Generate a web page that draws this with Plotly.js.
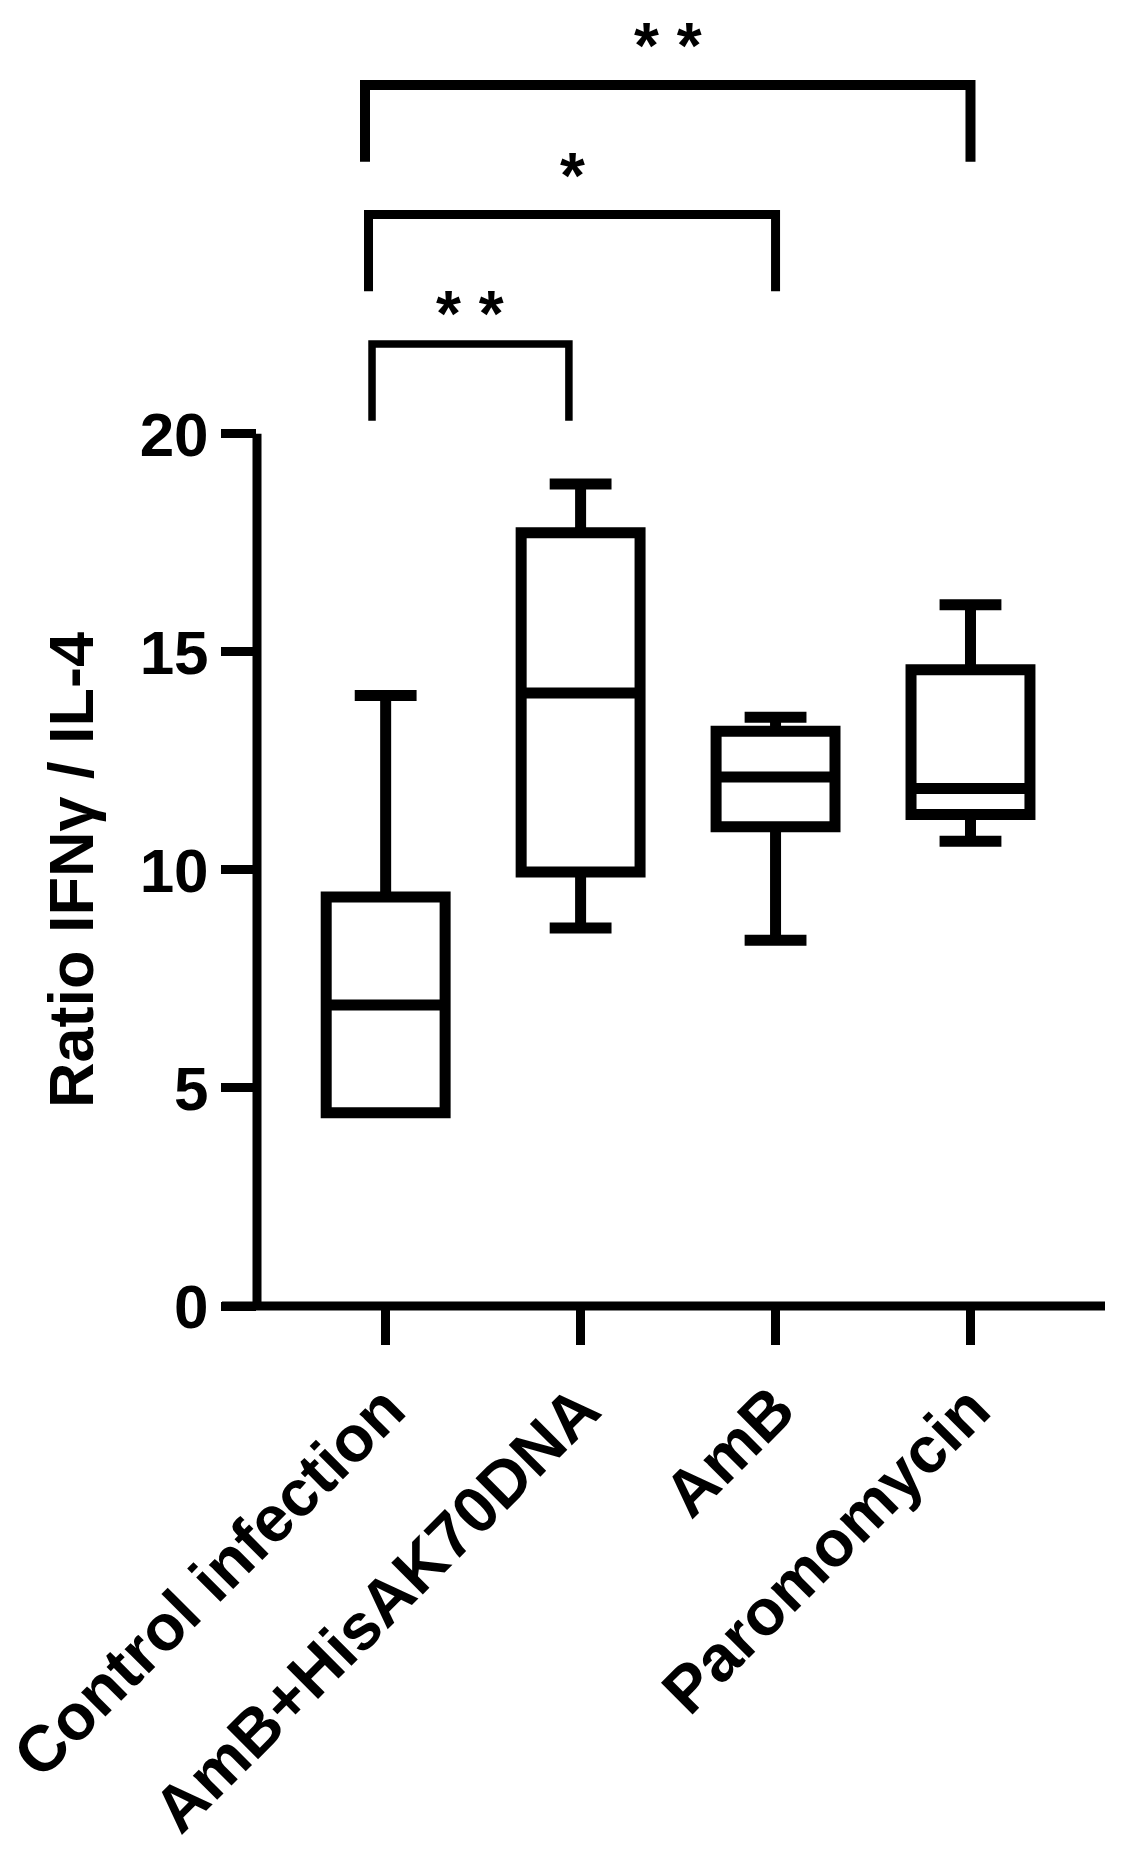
<!DOCTYPE html>
<html>
<head>
<meta charset="utf-8">
<script src="https://cdn.plot.ly/plotly-3.0.1.min.js"></script>
<style>
  html, body { margin: 0; padding: 0; background: #fff; }
  #chart { width: 1127px; height: 1851px; }
</style>
</head>
<body>
<div id="chart"></div>
<script>
// groups on the x axis
const groups = ['Control infection', 'AmB+HisAK70DNA', 'AmB', 'Paromomycin'];

// box statistics (ratio IFNγ / IL-4)
const lowerWhisker = [4.43, 8.67, 8.39, 10.66];
const q1 = [4.43, 9.95, 10.99, 11.27];
const median = [6.9, 14.06, 12.13, 11.87];
const q3 = [9.38, 17.73, 13.18, 14.59];
const upperWhisker = [14.0, 18.85, 13.5, 16.08];

// significance comparisons (index into groups)
const compareFrom = [0, 0, 0];
const compareTo = [1, 2, 3];
const compareStars = ['* *', '*', '* *'];

const yTicks = [0, 5, 10, 15, 20];

const FONT = 'Liberation Sans, Arial, sans-serif';
const xs = groups.map((g, i) => i);

const boxTrace = {
    type: 'box',
    x: xs,
    q1: q1,
    median: median,
    q3: q3,
    lowerfence: lowerWhisker,
    upperfence: upperWhisker,
    boxpoints: false,
    width: 0.61,
    whiskerwidth: 0.52,
    fillcolor: 'rgba(0,0,0,0)',
    line: { color: '#000', width: 11 },
    hoverinfo: 'skip'
};

// brackets stack upward, one level per comparison
const shapes = [];
const annotations = [];
const baseLevel = 22.06, levelStep = 2.97, legDrop = 1.76;
const bracketWidths = [7.5, 9, 10];
const starLift = [0.8, 1.0, 1.0];
compareFrom.forEach((from, i) => {
    const top = baseLevel + levelStep * i;
    const left = from - 0.07 - 0.018 * i;
    const right = compareTo[i] - (i === 0 ? 0.06 : 0);
    shapes.push({
        type: 'path', xref: 'x', yref: 'y',
        path: `M ${left},${top - legDrop} L ${left},${top} L ${right},${top} L ${right},${top - legDrop}`,
        line: { color: '#000', width: bracketWidths[i] }
    });
    annotations.push({
        x: (left + right) / 2, y: top + starLift[i], xref: 'x', yref: 'y',
        text: compareStars[i], showarrow: false, yanchor: 'middle', yshift: -5,
        font: { family: FONT, size: 64, weight: 700, color: '#000' }
    });
});

// y title sits beside the 0-20 part of the axis, not the full plot height
annotations.push({
    xref: 'paper', yref: 'y', x: 0, y: 10, xanchor: 'center', yanchor: 'middle',
    xshift: -186, textangle: -90, showarrow: false,
    text: 'Ratio IFNγ / IL-4',
    font: { family: FONT, size: 63, weight: 700, color: '#000' }
});

// axis lines: x line runs under the 0 tick, y line stops at 20
shapes.push({
    type: 'line', xref: 'paper', yref: 'paper', x0: -35 / 848, x1: 1, y0: 0, y1: 0,
    line: { color: '#000', width: 9 }
});
shapes.push({
    type: 'line', xref: 'paper', yref: 'y', x0: 0, x1: 0, y0: 0, y1: yTicks[yTicks.length - 1],
    line: { color: '#000', width: 9 }
});

const layout = {
    width: 1127,
    height: 1851,
    margin: { l: 257, r: 22, t: 10, b: 545, pad: 0 },
    paper_bgcolor: '#fff',
    plot_bgcolor: '#fff',
    showlegend: false,
    xaxis: {
        range: [-0.66, 3.69],
        tickvals: xs,
        ticktext: groups,
        tickangle: -45,
        ticklabeloverflow: 'allow',
        ticks: 'outside', ticklen: 38, tickwidth: 9, tickcolor: '#000',
        tickfont: { family: FONT, size: 65, weight: 700, color: '#000' },
        showline: false, showgrid: false, zeroline: false, fixedrange: true
    },
    yaxis: {
        range: [0, 29.72],
        tickvals: yTicks,
        ticks: 'outside', ticklen: 35, tickwidth: 9, tickcolor: '#000',
        tickfont: { family: FONT, size: 62, weight: 700, color: '#000' },
        showline: false, showgrid: false, zeroline: false, fixedrange: true
    },
    shapes: shapes,
    annotations: annotations
};

Plotly.newPlot('chart', [boxTrace], layout, { displayModeBar: false, staticPlot: true });
</script>
</body>
</html>
